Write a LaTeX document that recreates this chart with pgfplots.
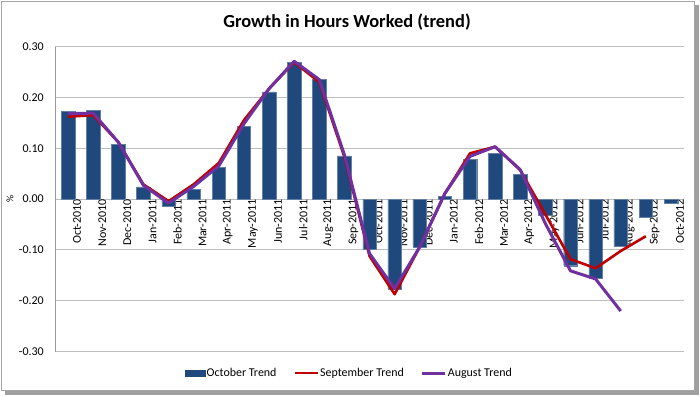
\documentclass[border=0pt]{standalone}
\usepackage{pgfplots}
\pgfplotsset{compat=1.18}
\usepackage{fontspec}
\setmainfont{Carlito}
\definecolor{barblue}{HTML}{1F497D}
\definecolor{sepred}{HTML}{C00000}
\definecolor{augpurple}{HTML}{7030A0}
\definecolor{gridgray}{HTML}{BEBEBE}
\begin{document}
\begin{tikzpicture}
\begin{scope}[x=1bp,y=1bp]
\useasboundingbox (-55.5,-44.3) rectangle (644.5,351.7);
\fill[gray!75] (-50.5,-43.3) rectangle (643.5,-38.3);
\fill[gray!75] (638.5,-43.3) rectangle (643.5,346.7);
\fill[white] (-54.5,-38.3) rectangle (638.5,350.7);
\draw[gray!70, line width=0.8bp] (-54.5,-38.3) rectangle (638.5,350.7);
\node[font=\fontsize{18.5}{22}\selectfont\bfseries] at (291.5,329.5) {Growth in Hours Worked (trend)};
\node[font=\fontsize{10}{12}\selectfont, rotate=90] at (-45.5,152.7) {\%};
\end{scope}
\begin{axis}[
  at={(0bp,0bp)}, anchor=south west,
  scale only axis, width=628bp, height=305.2bp,
  xmin=-0.5, xmax=24.5, ymin=-0.3, ymax=0.3,
  axis y line=left, axis x line=middle,
  axis line style={-},
  y axis line style={draw=gray!80, line width=0.8bp},
  x axis line style={draw=gridgray, line width=1bp},
  ytick={-0.3,-0.2,-0.1,0,0.1,0.2,0.3},
  ymajorgrids, grid style={draw=gridgray, line width=1bp},
  major tick length=0pt,
  xtick={0,...,24},
  xticklabels={Oct-2010,Nov-2010,Dec-2010,Jan-2011,Feb-2011,Mar-2011,Apr-2011,May-2011,Jun-2011,Jul-2011,Aug-2011,Sep-2011,Oct-2011,Nov-2011,Dec-2011,Jan-2012,Feb-2012,Mar-2012,Apr-2012,May-2012,Jun-2012,Jul-2012,Aug-2012,Sep-2012,Oct-2012},
  xticklabel style={rotate=90, anchor=east, inner sep=0pt, yshift=-9bp, font=\fontsize{12}{14}\selectfont},
  yticklabel style={anchor=east, inner sep=0pt, xshift=-11.5bp, font=\fontsize{12}{14}\selectfont},
  /pgf/number format/assume math mode=true,
  yticklabel={\pgfmathprintnumber[fixed, fixed zerofill, precision=2]{\tick}},
  legend style={at={(0.4674,-0.0698)}, anchor=center, draw=none, fill=none,
    legend columns=3, font=\fontsize{12}{14}\selectfont,
    nodes={inner sep=1bp, anchor=west},
    /tikz/every even column/.append style={column sep=16bp}},
  legend cell align=left,
  clip=false,
]
\addplot[ybar, bar width=13.5bp, fill=barblue, draw=barblue!70!white, line width=0.4bp,
  legend image code/.code={\fill[barblue] (0bp,-3bp) rectangle (20bp,3bp);}]
coordinates {
(0,0.172) (1,0.174) (2,0.108) (3,0.024) (4,-0.014) (5,0.019) (6,0.062) (7,0.143)
(8,0.211) (9,0.269) (10,0.235) (11,0.085) (12,-0.099) (13,-0.177) (14,-0.094)
(15,0.005) (16,0.078) (17,0.090) (18,0.048) (19,-0.032) (20,-0.131) (21,-0.156)
(22,-0.093) (23,-0.035) (24,-0.009)
};
\addlegendentry{October Trend}
\addplot[sepred, line width=2.6bp, no marks, line join=round,
  legend image code/.code={\draw[sepred, line width=2.6bp] (0bp,0bp) -- (23bp,0bp);}]
coordinates {
(0,0.162) (1,0.165) (2,0.112) (3,0.029) (4,-0.004) (5,0.029) (6,0.071) (7,0.155)
(8,0.217) (9,0.269) (10,0.230) (11,0.083) (12,-0.112) (13,-0.187) (14,-0.094)
(15,0.011) (16,0.090) (17,0.103) (18,0.057) (19,-0.030) (20,-0.118) (21,-0.136)
(22,-0.102) (23,-0.073)
};
\addlegendentry{September Trend}
\addplot[augpurple, line width=3bp, no marks, line join=round,
  legend image code/.code={\draw[augpurple, line width=3bp] (0bp,0bp) -- (23bp,0bp);}]
coordinates {
(0,0.168) (1,0.169) (2,0.112) (3,0.027) (4,-0.008) (5,0.025) (6,0.065) (7,0.148)
(8,0.217) (9,0.271) (10,0.235) (11,0.087) (12,-0.107) (13,-0.176) (14,-0.094)
(15,0.011) (16,0.084) (17,0.103) (18,0.058) (19,-0.048) (20,-0.141) (21,-0.157)
(22,-0.220)
};
\addlegendentry{August Trend}
\end{axis}
\end{tikzpicture}
\end{document}
